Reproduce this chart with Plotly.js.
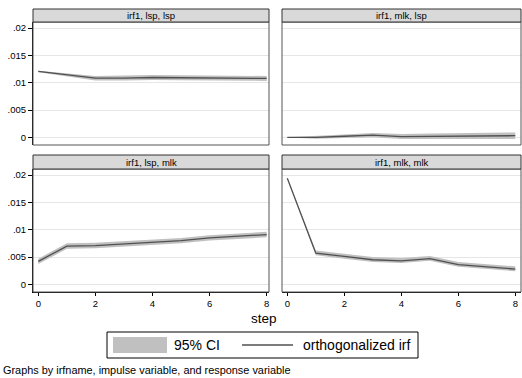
<!DOCTYPE html>
<html><head><meta charset="utf-8">
<script src="https://cdn.plot.ly/plotly-3.0.1.min.js"></script>
<style>html,body{margin:0;padding:0;background:#fff}#c{width:522px;height:378px}</style>
</head><body><div id="c"></div>
<script>
const steps = [0,1,2,3,4,5,6,7,8];
const panelTitles = ["irf1, lsp, lsp","irf1, mlk, lsp","irf1, lsp, mlk","irf1, mlk, mlk"];

const irf_lsp_lsp = [0.01205,0.0114,0.01083,0.01085,0.01095,0.0109,0.01085,0.0108,0.01078];
const lo_lsp_lsp  = [0.0119,0.0111,0.0104,0.0104,0.0105,0.01045,0.0104,0.01035,0.01033];
const hi_lsp_lsp  = [0.0122,0.0117,0.0112,0.0113,0.0114,0.01135,0.0113,0.01125,0.01123];

const irf_mlk_lsp = [0,-0.00002,0.0002,0.0004,0.00015,0.0002,0.00025,0.0003,0.0003];
const lo_mlk_lsp  = [-0.00002,-0.00025,-0.0001,0.0000,-0.0003,-0.0003,-0.0003,-0.0003,-0.0003];
const hi_mlk_lsp  = [0.00002,0.0002,0.0005,0.0008,0.0006,0.0007,0.0008,0.0009,0.0009];

const irf_lsp_mlk = [0.0042,0.0070,0.0071,0.0074,0.0076,0.0080,0.0085,0.0088,0.0091];
const lo_lsp_mlk  = [0.0037,0.0065,0.0066,0.0069,0.0071,0.0075,0.0080,0.0083,0.0086];
const hi_lsp_mlk  = [0.0047,0.0075,0.0076,0.0079,0.0081,0.0085,0.0090,0.0093,0.0096];

const irf_mlk_mlk = [0.0194,0.0057,0.0051,0.0045,0.0043,0.0047,0.0036,0.0032,0.0028];
const lo_mlk_mlk  = [0.0193,0.0053,0.0047,0.0041,0.0039,0.0043,0.0032,0.0028,0.0024];
const hi_mlk_mlk  = [0.0195,0.0062,0.0056,0.0050,0.0048,0.0052,0.0041,0.0037,0.0033];

const yTickVals = [0,0.005,0.01,0.015,0.02];
const yTickText = ["0",".005",".01",".015",".02"];
const xTickVals = [0,2,4,6,8];
const legendLabels = ["95% CI","orthogonalized irf"];
const xTitle = "step";
const note = "Graphs by irfname, impulse variable, and response variable";

const W=522,H=378;
const px=x=>x/W, py=y=>1-y/H;
const FONT="Liberation Sans, Arial, sans-serif";
const CI_COL="#c0c0c0", LINE_COL="#505050";

// panel pixel boxes: [x0,x1,yTop,yBottom,headerTop]
const boxes = [
  [33,269,22,145,9],
  [282,521,22,145,9],
  [33,269,169,292,155],
  [282,521,169,292,155]
];
const series = [
  [irf_lsp_lsp,lo_lsp_lsp,hi_lsp_lsp],
  [irf_mlk_lsp,lo_mlk_lsp,hi_mlk_lsp],
  [irf_lsp_mlk,lo_lsp_mlk,hi_lsp_mlk],
  [irf_mlk_mlk,lo_mlk_mlk,hi_mlk_mlk]
];

const traces=[];
const layout={
  width:W,height:H,margin:{l:0,r:0,t:0,b:0},
  paper_bgcolor:"#fff",plot_bgcolor:"#fff",showlegend:false,
  font:{family:FONT,size:9.5,color:"#000"},
  shapes:[],annotations:[]
};

series.forEach((s,i)=>{
  const n=i+1, xa='x'+(n===1?'':n), ya='y'+(n===1?'':n);
  traces.push({x:steps,y:s[1],xaxis:xa,yaxis:ya,mode:'lines',line:{width:0,color:CI_COL},hoverinfo:'skip'});
  traces.push({x:steps,y:s[2],xaxis:xa,yaxis:ya,mode:'lines',fill:'tonexty',fillcolor:CI_COL,line:{width:0,color:CI_COL},hoverinfo:'skip'});
  traces.push({x:steps,y:s[0],xaxis:xa,yaxis:ya,mode:'lines',line:{width:1.3,color:LINE_COL}});
  const b=boxes[i];
  const left=(i%2===0), bottom=(i>=2);
  const xr = left?[-0.186,8.08]:[-0.186,8.2];
  layout['xaxis'+(n===1?'':n)]={
    domain:[px(b[0]),px(b[1])],anchor:ya,range:xr,showgrid:false,zeroline:false,
    showline:bottom,linecolor:"#000",linewidth:1,
    ticks:bottom?'outside':'',ticklen:3,tickcolor:"#000",
    tickvals:xTickVals,showticklabels:bottom,tickfont:{size:9.5,family:FONT}
  };
  layout['yaxis'+(n===1?'':n)]={
    domain:[py(b[3]),py(b[2])],anchor:xa,range:[-0.0014,0.0211],
    showgrid:true,gridcolor:"#e6e6e6",gridwidth:1,zeroline:false,
    showline:left,linecolor:"#000",linewidth:1,
    ticks:left?'outside':'',ticklen:4,tickcolor:"#000",
    tickvals:yTickVals,ticktext:yTickText,showticklabels:left,tickfont:{size:9.5,family:FONT}
  };
  // frame
  layout.shapes.push({type:'rect',xref:'paper',yref:'paper',x0:px(b[0]),x1:px(b[1]),y0:py(b[3]),y1:py(b[2]),line:{color:"#555",width:1},fillcolor:'rgba(0,0,0,0)',layer:'above'});
  // header
  layout.shapes.push({type:'rect',xref:'paper',yref:'paper',x0:px(b[0]),x1:px(b[1]),y0:py(b[2]),y1:py(b[4]),line:{color:"#333",width:1},fillcolor:"#d9d9d9",layer:'above'});
  layout.annotations.push({xref:'paper',yref:'paper',x:px((b[0]+b[1])/2),y:py((b[2]+b[4])/2),text:panelTitles[i],showarrow:false,xanchor:'center',yanchor:'middle',font:{size:9.5,family:FONT}});
});

// x title
layout.annotations.push({xref:'paper',yref:'paper',x:px(264),y:py(318),text:xTitle,showarrow:false,xanchor:'center',yanchor:'middle',font:{size:13.5,family:FONT}});
// legend box
layout.shapes.push({type:'rect',xref:'paper',yref:'paper',x0:px(107),x1:px(418),y0:py(358),y1:py(332),line:{color:"#000",width:1},fillcolor:"#fff"});
layout.shapes.push({type:'rect',xref:'paper',yref:'paper',x0:px(113),x1:px(167),y0:py(353),y1:py(337),line:{width:0},fillcolor:"#c0c0c0"});
layout.shapes.push({type:'line',xref:'paper',yref:'paper',x0:px(242),x1:px(293),y0:py(345),y1:py(345),line:{color:LINE_COL,width:1.3}});
layout.annotations.push({xref:'paper',yref:'paper',x:px(172),y:py(345),text:legendLabels[0],showarrow:false,xanchor:'left',yanchor:'middle',font:{size:14,family:FONT}});
layout.annotations.push({xref:'paper',yref:'paper',x:px(301),y:py(345),text:legendLabels[1],showarrow:false,xanchor:'left',yanchor:'middle',font:{size:14,family:FONT}});
// note
layout.annotations.push({xref:'paper',yref:'paper',x:px(1),y:py(370),text:note,showarrow:false,xanchor:'left',yanchor:'middle',font:{size:10.9,family:FONT}});

Plotly.newPlot('c',traces,layout,{staticPlot:true,displayModeBar:false});
</script></body></html>
